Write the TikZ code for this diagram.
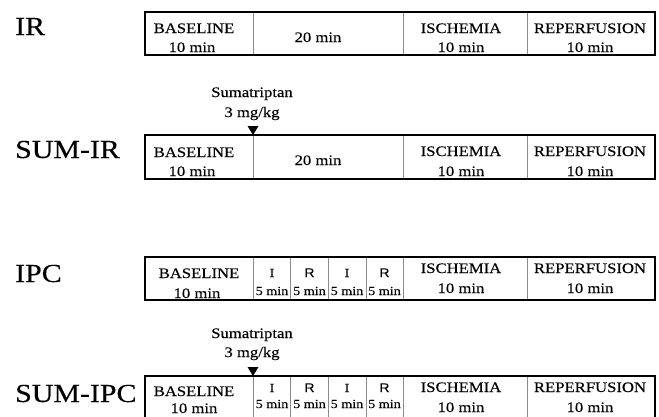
\documentclass[tikz,border=0pt]{standalone}
\usepackage{fontspec}
\setmainfont{Liberation Serif}[FakeStretch=1.15,FakeBold=0.25]
\newfontfamily\rsans{Liberation Sans}[FakeStretch=1.1,FakeBold=0.2]
\begin{document}
\begin{tikzpicture}[x=1pt,y=-1pt,
  frame/.style={line width=1.9pt,black},
  divider/.style={line width=0.9pt,black!45},
  lbl/.style={anchor=base west,inner sep=0pt,font=\fontsize{26}{28}\selectfont},
  txt/.style={anchor=base,inner sep=0pt,font=\fontsize{14.5}{16}\selectfont},
  sml/.style={anchor=base,inner sep=0pt,font=\fontsize{12.3}{14}\selectfont},
  rtx/.style={anchor=base,inner sep=0pt,font=\rsans\fontsize{12.5}{14}\selectfont},
  drug/.style={anchor=base,inner sep=0pt,font=\fontsize{14.5}{16}\selectfont}]
\useasboundingbox (0,0) rectangle (659,416);

% ---------- Row 1: IR ----------
\node[lbl] (lIR) at (15,35) {IR};
\draw[frame] (145,12) rectangle (655,55);
\draw[divider] (253,13) -- (253,54) (403,13) -- (403,54) (527,13) -- (527,54);
\node[txt] (b1a) at (194,33) {BASELINE};
\node[txt] (b1b) at (192,52) {10 min};
\node[txt] (t1) at (318,42) {20 min};
\node[txt] (i1a) at (461,33) {ISCHEMIA};
\node[txt] (i1b) at (461,52) {10 min};
\node[txt] (r1a) at (590,33) {REPERFUSION};
\node[txt] (r1b) at (590,52) {10 min};

% ---------- Row 2: SUM-IR ----------
\node[drug] (s2a) at (252,97) {Sumatriptan};
\node[drug] (s2b) at (252,117) {3 mg/kg};
\coordinate (tri2) at (253,135);
\fill (tri2) -- ++(-5.5,-9) -- ++(11,0) -- cycle;
\node[lbl] (lSIR) at (15,158) {SUM-IR};
\draw[frame] (145,135) rectangle (655,179);
\draw[divider] (253,136) -- (253,178) (403,136) -- (403,178) (527,136) -- (527,178);
\node[txt] (b2a) at (194,157) {BASELINE};
\node[txt] (b2b) at (192,176) {10 min};
\node[txt] (t2) at (318,165) {20 min};
\node[txt] (i2a) at (461,156) {ISCHEMIA};
\node[txt] (i2b) at (461,176) {10 min};
\node[txt] (r2a) at (590,156) {REPERFUSION};
\node[txt] (r2b) at (590,176) {10 min};

% ---------- Row 3: IPC ----------
\node[lbl] (lIPC) at (15,282) {IPC};
\draw[frame] (145,257) rectangle (655,300);
\draw[divider] (253,258) -- (253,299) (290.5,258) -- (290.5,299) (328,258) -- (328,299)
  (366,258) -- (366,299) (403,258) -- (403,299) (527,258) -- (527,299);
\node[txt] (b3a) at (199,278) {BASELINE};
\node[txt] (b3b) at (197,298) {10 min};
\node[sml] (c3a) at (272,277) {I};
\node[sml] (c3b) at (272,295) {5 min};
\node[rtx] (c3c) at (309.5,277) {R};
\node[sml] (c3d) at (309.5,295) {5 min};
\node[sml] (c3e) at (347,277) {I};
\node[sml] (c3f) at (347,295) {5 min};
\node[rtx] (c3g) at (384.5,277) {R};
\node[sml] (c3h) at (384.5,295) {5 min};
\node[txt] (i3a) at (461,273) {ISCHEMIA};
\node[txt] (i3b) at (461,293) {10 min};
\node[txt] (r3a) at (590,273) {REPERFUSION};
\node[txt] (r3b) at (590,293) {10 min};

% ---------- Row 4: SUM-IPC ----------
\node[drug] (s4a) at (252,338) {Sumatriptan};
\node[drug] (s4b) at (252,357) {3 mg/kg};
\coordinate (tri4) at (253,376);
\fill (tri4) -- ++(-5.5,-9) -- ++(11,0) -- cycle;
\node[lbl] (lSIPC) at (15,402) {SUM-IPC};
\draw[frame] (145,376) rectangle (655,419);
\draw[divider] (253,377) -- (253,418) (290.5,377) -- (290.5,418) (328,377) -- (328,418)
  (366,377) -- (366,418) (403,377) -- (403,418) (527,377) -- (527,418);
\node[txt] (b4a) at (194,396) {BASELINE};
\node[txt] (b4b) at (194,413) {10 min};
\node[sml] (c4a) at (272,392) {I};
\node[sml] (c4b) at (272,408) {5 min};
\node[rtx] (c4c) at (309.5,392) {R};
\node[sml] (c4d) at (309.5,408) {5 min};
\node[sml] (c4e) at (347,392) {I};
\node[sml] (c4f) at (347,408) {5 min};
\node[rtx] (c4g) at (384.5,392) {R};
\node[sml] (c4h) at (384.5,408) {5 min};
\node[txt] (i4a) at (461,392) {ISCHEMIA};
\node[txt] (i4b) at (461,412) {10 min};
\node[txt] (r4a) at (590,392) {REPERFUSION};
\node[txt] (r4b) at (590,412) {10 min};
\end{tikzpicture}
\end{document}
